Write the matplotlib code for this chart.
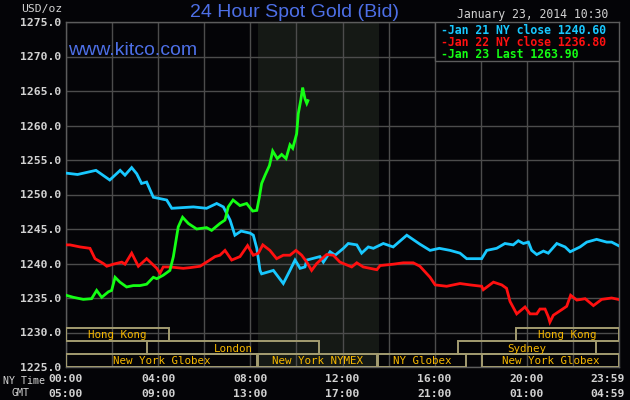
import numpy as np
import matplotlib
matplotlib.use("Agg")
import matplotlib.pyplot as plt
from matplotlib.patches import Rectangle
from matplotlib import transforms

# ---------------- data ----------------
t_jan21 = [0, 0.5, 1.3, 1.9, 2.35, 2.56, 2.85, 3.07, 3.28, 3.5, 3.79, 4.37, 4.59, 5.53, 6.1,
           6.54, 6.83, 7.12, 7.33, 7.6, 7.99, 8.13, 8.28, 8.42, 8.49, 9.0, 9.43, 9.72, 9.94,
           10.16, 10.37, 10.45, 11.02, 11.17, 11.46, 11.68, 12.04, 12.25, 12.62, 12.83, 13.12,
           13.34, 13.77, 14.2, 14.79, 15.36, 15.8, 16.2, 16.67, 17.1, 17.39, 18.04, 18.26,
           18.69, 19.05, 19.41, 19.63, 19.85, 20.07, 20.21, 20.43, 20.72, 20.93, 21.3, 21.66,
           21.88, 22.31, 22.6, 23.03, 23.47, 23.68, 23.97]
v_jan21 = [1253.1, 1252.9, 1253.5, 1252.1, 1253.5, 1252.8, 1253.9, 1253.0, 1251.6, 1251.8,
           1249.6, 1249.2, 1248.0, 1248.2, 1248.0, 1248.7, 1248.2, 1246.3, 1244.1, 1244.7,
           1244.4, 1244.1, 1242.2, 1239.0, 1238.5, 1239.0, 1237.1, 1239.0, 1240.5, 1239.3,
           1239.5, 1240.5, 1241.0, 1240.2, 1241.7, 1241.2, 1242.2, 1242.9, 1242.7, 1241.5,
           1242.4, 1242.2, 1242.9, 1242.4, 1244.1, 1242.8, 1241.9, 1242.2, 1241.9, 1241.5,
           1240.7, 1240.7, 1241.9, 1242.2, 1242.9, 1242.7, 1243.3, 1242.9, 1243.1, 1241.9,
           1241.3, 1241.8, 1241.5, 1242.9, 1242.4, 1241.7, 1242.4, 1243.1, 1243.5, 1243.1,
           1243.1, 1242.6]

t_jan22 = [0, 0.17, 0.61, 1.04, 1.26, 1.62, 1.77, 2.05, 2.42, 2.56, 2.85, 3.14, 3.5, 3.72,
           3.94, 4.08, 4.22, 4.51, 5.09, 5.38, 5.82, 6.1, 6.47, 6.68, 6.9, 7.19, 7.55, 7.88,
           8.13, 8.35, 8.54, 8.85, 9.14, 9.43, 9.72, 9.98, 10.23, 10.45, 10.66, 10.88, 11.31,
           11.6, 11.89, 12.4, 12.62, 12.9, 13.49, 13.63, 14.2, 14.64, 15.07, 15.36, 15.8,
           16.02, 16.52, 17.1, 17.53, 18.04, 18.11, 18.55, 18.91, 19.12, 19.27, 19.56, 19.92,
           20.14, 20.43, 20.57, 20.79, 20.93, 21.0, 21.15, 21.51, 21.73, 21.9, 22.17, 22.53,
           22.89, 23.25, 23.68, 23.97]
v_jan22 = [1242.7, 1242.7, 1242.4, 1242.2, 1240.7, 1240.0, 1239.6, 1239.9, 1240.2, 1239.9,
           1241.5, 1239.6, 1240.7, 1240.0, 1239.3, 1238.6, 1239.5, 1239.5, 1239.3, 1239.4,
           1239.6, 1240.2, 1241.0, 1241.2, 1241.9, 1240.5, 1241.0, 1242.6, 1241.2, 1241.5,
           1242.7, 1241.9, 1240.7, 1241.2, 1241.2, 1241.9, 1241.2, 1240.2, 1239.0, 1240.0,
           1241.3, 1241.2, 1240.2, 1239.5, 1240.1, 1239.5, 1239.1, 1239.7, 1239.9, 1240.1,
           1240.1, 1239.6, 1238.0, 1236.9, 1236.7, 1237.1, 1236.9, 1236.7, 1236.2, 1237.3,
           1236.9, 1236.4, 1234.5, 1232.7, 1233.7, 1232.7, 1232.7, 1233.4, 1233.4, 1232.3,
           1231.5, 1232.5, 1233.3, 1233.8, 1235.4, 1234.7, 1234.9, 1233.9, 1234.8, 1235.0,
           1234.8]

t_jan23 = [0, 0.32, 0.75, 1.11, 1.33, 1.55, 1.84, 1.98, 2.13, 2.34, 2.63, 2.92, 3.21, 3.5,
           3.79, 3.94, 4.22, 4.51, 4.66, 4.87, 5.06, 5.31, 5.67, 6.1, 6.32, 6.68, 6.9, 7.04,
           7.25, 7.55, 7.84, 8.1, 8.28, 8.39, 8.49, 8.64, 8.83, 8.97, 9.17, 9.36, 9.55, 9.72,
           9.84, 10.01, 10.08, 10.19, 10.27, 10.37, 10.45, 10.5]
v_jan23 = [1235.4, 1235.1, 1234.8, 1234.9, 1236.1, 1235.1, 1235.9, 1236.1, 1238.0, 1237.3,
           1236.6, 1236.8, 1236.8, 1237.0, 1238.0, 1237.8, 1238.3, 1239.0, 1241.0, 1245.3,
           1246.7, 1245.8, 1245.0, 1245.2, 1244.8, 1245.8, 1246.3, 1248.2, 1249.2, 1248.4,
           1248.7, 1247.6, 1247.7, 1249.6, 1251.6, 1252.8, 1254.2, 1256.3, 1255.2, 1255.8,
           1255.2, 1257.2, 1256.7, 1258.8, 1261.7, 1263.7, 1265.5, 1263.9, 1263.2, 1263.6]

legend_labels = ["Jan 21 NY close 1240.60", "Jan 22 NY close 1236.80", "Jan 23 Last 1263.90"]
series_colors = ["#18c8ff", "#ff1010", "#14ff14"]

y_ticks = [1225, 1230, 1235, 1240, 1245, 1250, 1255, 1260, 1265, 1270, 1275]
x_label_pos = [0, 4, 8, 12, 16, 20, 24]
ny_time_labels = ["00:00", "04:00", "08:00", "12:00", "16:00", "20:00", "23:59"]
gmt_labels = ["05:00", "09:00", "13:00", "17:00", "21:00", "01:00", "04:59"]

# session boxes: (label, row, start hour, end hour)
session_names = ["Hong Kong", "Hong Kong", "London", "Sydney", "New York Globex",
                 "New York NYMEX", "NY Globex", "New York Globex"]
session_rows = [0, 0, 1, 1, 2, 2, 2, 2]
session_start = [0, 19.55, 3.53, 17.03, 0, 8.33, 13.55, 18.07]
session_end = [4.48, 24, 11.0, 23.0, 8.28, 13.5, 17.38, 24]

nymex_floor = (8.33, 13.58)

# ---------------- style ----------------
BG = "#040407"
GRID = "#4c4c4c"
LABEL = "#d2d2d2"
BLUE = "#4d6fe6"
SESS_EDGE = "#a39c70"
SESS_TEXT = "#f7b800"
MONO = "DejaVu Sans Mono"

W, H = 630, 400
fig = plt.figure(figsize=(W / 100, H / 100), dpi=100, facecolor=BG)
ax = fig.add_axes([66 / W, 33 / H, 553 / W, 345 / H])
ax.set_facecolor(BG)
ax.set_xlim(0, 24)
ax.set_ylim(1225, 1275)

ax.axvspan(*nymex_floor, color="#151915", zorder=0, lw=0)

ax.set_xticks(np.arange(0, 25, 2))
ax.set_yticks(y_ticks)
ax.set_xticklabels([])
ax.set_yticklabels([f"{v:.1f}" for v in y_ticks], family=MONO, weight="bold",
                   fontsize=8.2, color=LABEL)
ax.tick_params(length=0, pad=3.4)
ax.grid(True, color=GRID, lw=1.0)
ax.set_axisbelow(True)
for s in ax.spines.values():
    s.set_color("#5c5c5c")
    s.set_linewidth(1.0)

# series
for t, v, c in zip([t_jan21, t_jan22, t_jan23], [v_jan21, v_jan22, v_jan23], series_colors):
    ax.plot(t, v, color=c, lw=2.0, zorder=3, solid_joinstyle="miter")

# session boxes
bt = transforms.blended_transform_factory(ax.transData, ax.transAxes)
row_h = 13 / 345
for name, r, s0, s1 in zip(session_names, session_rows, session_start, session_end):
    y0 = (2 - r) * row_h
    ax.add_patch(Rectangle((s0, y0), s1 - s0, row_h, transform=bt, fill=False,
                           edgecolor=SESS_EDGE, lw=1.4, zorder=4))
    ax.text((s0 + s1) / 2, y0 + row_h / 2, name, transform=bt, ha="center",
            va="center_baseline", family=MONO, fontsize=7.8, color=SESS_TEXT, zorder=5)

# legend box
ax.add_patch(Rectangle((16, (367 - 61) / 345), 8, 39 / 345, transform=bt,
                       facecolor=BG, edgecolor="#5c5c5c", lw=1.0, zorder=6))
for i, (lab, c) in enumerate(zip(legend_labels, series_colors)):
    fig.text(441.5 / W, 1 - (33.5 + 12.3 * i) / H, "-" + lab, color=c, family=MONO,
             weight="bold", fontsize=8.3, ha="left", va="baseline", zorder=7)

# x labels (two rows)
xt = transforms.blended_transform_factory(ax.transData, fig.transFigure)
for i, (xp, ny, gmt) in enumerate(zip(x_label_pos, ny_time_labels, gmt_labels)):
    tr, ha = xt, "center"
    if i == len(x_label_pos) - 1:
        tr = transforms.offset_copy(xt, fig=fig, x=6, units="dots")
        ha = "right"
    fig.text(xp, 1 - 382.3 / H, ny, transform=tr, ha=ha, va="baseline", family=MONO,
             weight="bold", fontsize=8.2, color=LABEL)
    fig.text(xp, 1 - 397.3 / H, gmt, transform=tr, ha=ha, va="baseline", family=MONO,
             weight="bold", fontsize=8.2, color=LABEL)

fig.text(24 / W, 1 - 384 / H, "NY Time", ha="center", va="baseline", family=MONO,
         fontsize=7.2, color=LABEL)
fig.text(20.3 / W, 1 - 396 / H, "GMT", ha="center", va="baseline", family=MONO,
         fontsize=7.2, color=LABEL)
fig.text(62 / W, 1 - 12 / H, "USD/oz", ha="right", va="baseline", family=MONO,
         fontsize=8.2, color=LABEL)

# titles
fig.text(295 / W, 1 - 17 / H, "24 Hour Spot Gold (Bid)", ha="center", va="baseline",
         family="Liberation Sans", fontsize=14, color=BLUE)
fig.text(68 / W, 1 - 55 / H, "www.kitco.com", ha="left", va="baseline",
         family="Liberation Sans", fontsize=14, color=BLUE)
fig.text(608 / W, 1 - 18.3 / H, "January 23, 2014 10:30", ha="right", va="baseline",
         family=MONO, fontsize=8.3, color=LABEL)

fig.savefig("out.png", dpi=100, facecolor=BG)
